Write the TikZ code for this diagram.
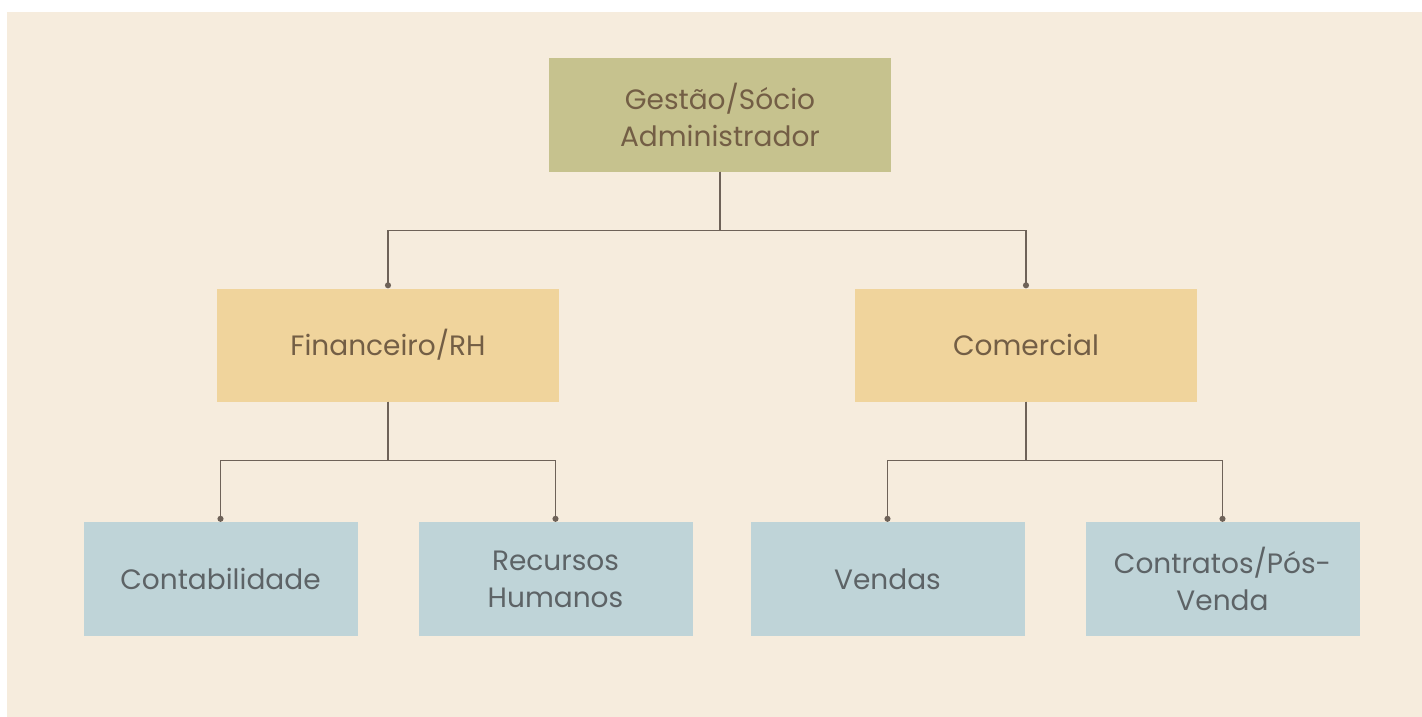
\documentclass[tikz,border=0pt]{standalone}
\usepackage{fontspec}
\setmainfont{Poppins}
\usetikzlibrary{arrows.meta}

\definecolor{fundo}{HTML}{F6ECDD}
\definecolor{oliva}{HTML}{C6C28E}
\definecolor{areia}{HTML}{F0D49C}
\definecolor{ceu}{HTML}{BFD4D8}
\definecolor{linha}{HTML}{6E6258}
\definecolor{marrom}{HTML}{735E45}
\definecolor{cinza}{HTML}{5D6366}

\begin{document}
\begin{tikzpicture}[x=1pt, y=1pt,
caixa/.style = {rectangle, minimum width=342pt, minimum height=113pt, inner sep=0pt,
    align=center, text=marrom, font=\fontsize{28}{37}\selectfont},
baixa/.style = {caixa, minimum width=274pt, minimum height=114pt, fill=ceu, text=cinza},
edge from parent/.style = {draw=linha, line width=1.5pt, -{Circle[length=6pt]}},
edge from parent path = {(\tikzparentnode.south) -- ++(0,-59) -| (\tikzchildnode.north)},
level 1/.style = {sibling distance=638pt, level distance=230pt},
level 2/.style = {sibling distance=335pt, level distance=234pt}]
\useasboundingbox (0,0) rectangle (1422,-717);
\fill[fundo] (7,-12) rectangle (1422,-717);
\node[caixa, fill=oliva] (gestao) at (720,-115) {Gestão/Sócio\\Administrador}
    child[xshift=-13pt] {node[caixa, fill=areia] (financeiro) {Financeiro/RH}
        child {node[baixa] (contab) {Contabilidade}}
        child {node[baixa] (rh) {Recursos\\Humanos}}}
    child[xshift=-13pt] {node[caixa, fill=areia] (comercial) {Comercial}
        child[xshift=29pt] {node[baixa] (vendas) {Vendas}}
        child[xshift=29pt] {node[baixa] (contratos) {Contratos/Pós-\\Venda}}};
\end{tikzpicture}
\end{document}
